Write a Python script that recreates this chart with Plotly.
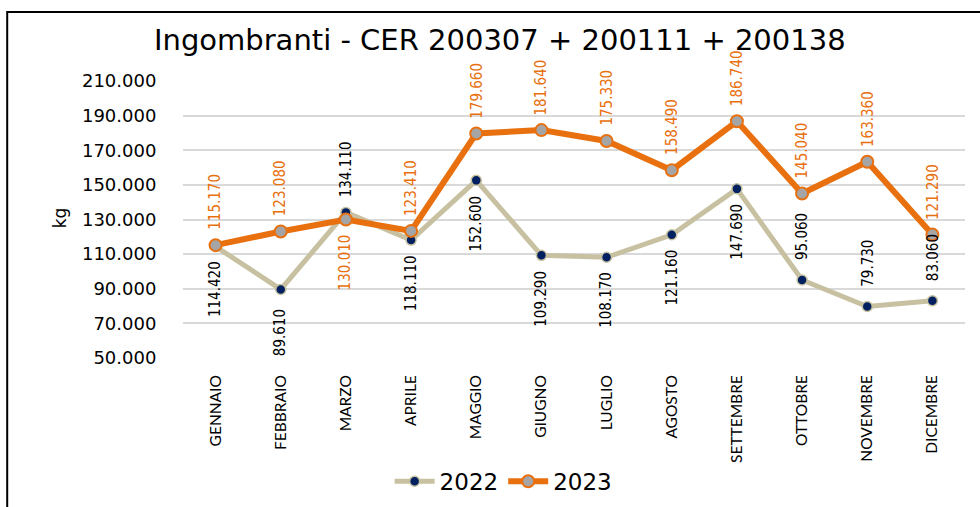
import plotly.graph_objects as go

months = ["GENNAIO", "FEBBRAIO", "MARZO", "APRILE", "MAGGIO", "GIUGNO",
          "LUGLIO", "AGOSTO", "SETTEMBRE", "OTTOBRE", "NOVEMBRE", "DICEMBRE"]
values_2022 = [114420, 89610, 134110, 118110, 152600, 109290,
               108170, 121160, 147690, 95060, 79730, 83060]
values_2023 = [115170, 123080, 130010, 123410, 179660, 181640,
               175330, 158490, 186740, 145040, 163360, 121290]
y_ticks = [50000, 70000, 90000, 110000, 130000, 150000, 170000, 190000, 210000]
title_text = "Ingombranti - CER 200307 + 200111 + 200138"
y_title = "kg"

# label placement (style): +1 above point, -1 below point
side_2022 = [-1, -1, 1, -1, -1, -1, -1, -1, -1, 1, 1, 1]
side_2023 = [1, 1, -1, 1, 1, 1, 1, 1, 1, 1, 1, 1]

C22_LINE = "#C7C1A1"
C22_MARK = "#002060"
C23_LINE = "#E8700F"
C23_MARK = "#A5A5A5"
C23_TEXT = "#E8700F"

NARROW = "Liberation Sans Narrow, DejaVu Sans Condensed, Arial Narrow, sans-serif"
WIDE = "DejaVu Sans, Verdana, sans-serif"


def fmt(v):
    return f"{v:,}".replace(",", ".")


fig = go.Figure()
fig.add_trace(go.Scatter(
    x=months, y=values_2022, name="2022", mode="lines+markers",
    line=dict(color=C22_LINE, width=5),
    marker=dict(color=C22_MARK, size=10, line=dict(color=C22_LINE, width=1.5)),
))
fig.add_trace(go.Scatter(
    x=months, y=values_2023, name="2023", mode="lines+markers",
    line=dict(color=C23_LINE, width=6),
    marker=dict(color=C23_MARK, size=12, line=dict(color=C23_LINE, width=2)),
))

annotations = []
for m, v, s in zip(months, values_2022, side_2022):
    annotations.append(dict(
        x=m, y=v, xref="x", yref="y", text=fmt(v), showarrow=False,
        textangle=-90, xanchor="center", yanchor="middle", yshift=43 * s,
        font=dict(family=NARROW, size=15, color="#000000"),
    ))
for m, v, s in zip(months, values_2023, side_2023):
    annotations.append(dict(
        x=m, y=v, xref="x", yref="y", text=fmt(v), showarrow=False,
        textangle=-90, xanchor="center", yanchor="middle", yshift=43 * s,
        font=dict(family=NARROW, size=15, color=C23_TEXT),
    ))
annotations.append(dict(
    x=-0.157, y=0.505, xref="paper", yref="paper", text=y_title,
    showarrow=False, textangle=-90, xanchor="center", yanchor="middle",
    font=dict(family=WIDE, size=17, color="#000000"),
))

fig.update_layout(
    width=980, height=507,
    margin=dict(l=183, r=15, t=81, b=149, autoexpand=False),
    paper_bgcolor="white", plot_bgcolor="white",
    separators=",.",
    title=dict(text=title_text, x=0.51, xanchor="center", y=0.921, yanchor="middle",
               font=dict(family=WIDE, size=29, color="#000000")),
    xaxis=dict(
        type="category", tickangle=-90, showgrid=False, zeroline=False,
        showline=False, ticks="outside", ticklen=10, tickcolor="rgba(0,0,0,0)",
        tickfont=dict(family="Lato, sans-serif", size=15.5, color="#000000"),
        range=[-0.5, 11.5], automargin=False,
    ),
    yaxis=dict(
        range=[50000, 210000], tickvals=y_ticks, tickformat=",.0f",
        showgrid=True, gridcolor="#D9D9D9", gridwidth=2, zeroline=False,
        showline=False, ticks="outside", ticklen=22, tickcolor="rgba(0,0,0,0)",
        tickfont=dict(family=WIDE, size=18, color="#000000"), automargin=False,
    ),
    showlegend=True,
    legend=dict(orientation="h", x=0.41, xanchor="center", y=-0.445, yanchor="middle",
                font=dict(family=WIDE, size=23, color="#000000"),
                itemwidth=40, bgcolor="rgba(0,0,0,0)"),
    annotations=annotations,
    shapes=[dict(type="rect", xref="paper", yref="paper",
                 x0=-0.2248, x1=1.05, y0=-0.6, y1=1.249,
                 line=dict(color="#000000", width=2), fillcolor="rgba(0,0,0,0)",
                 layer="above")],
)

fig.write_html("out.html", config={"displayModeBar": False},
               post_script="document.body.style.margin='0';document.body.style.overflow='hidden';")
